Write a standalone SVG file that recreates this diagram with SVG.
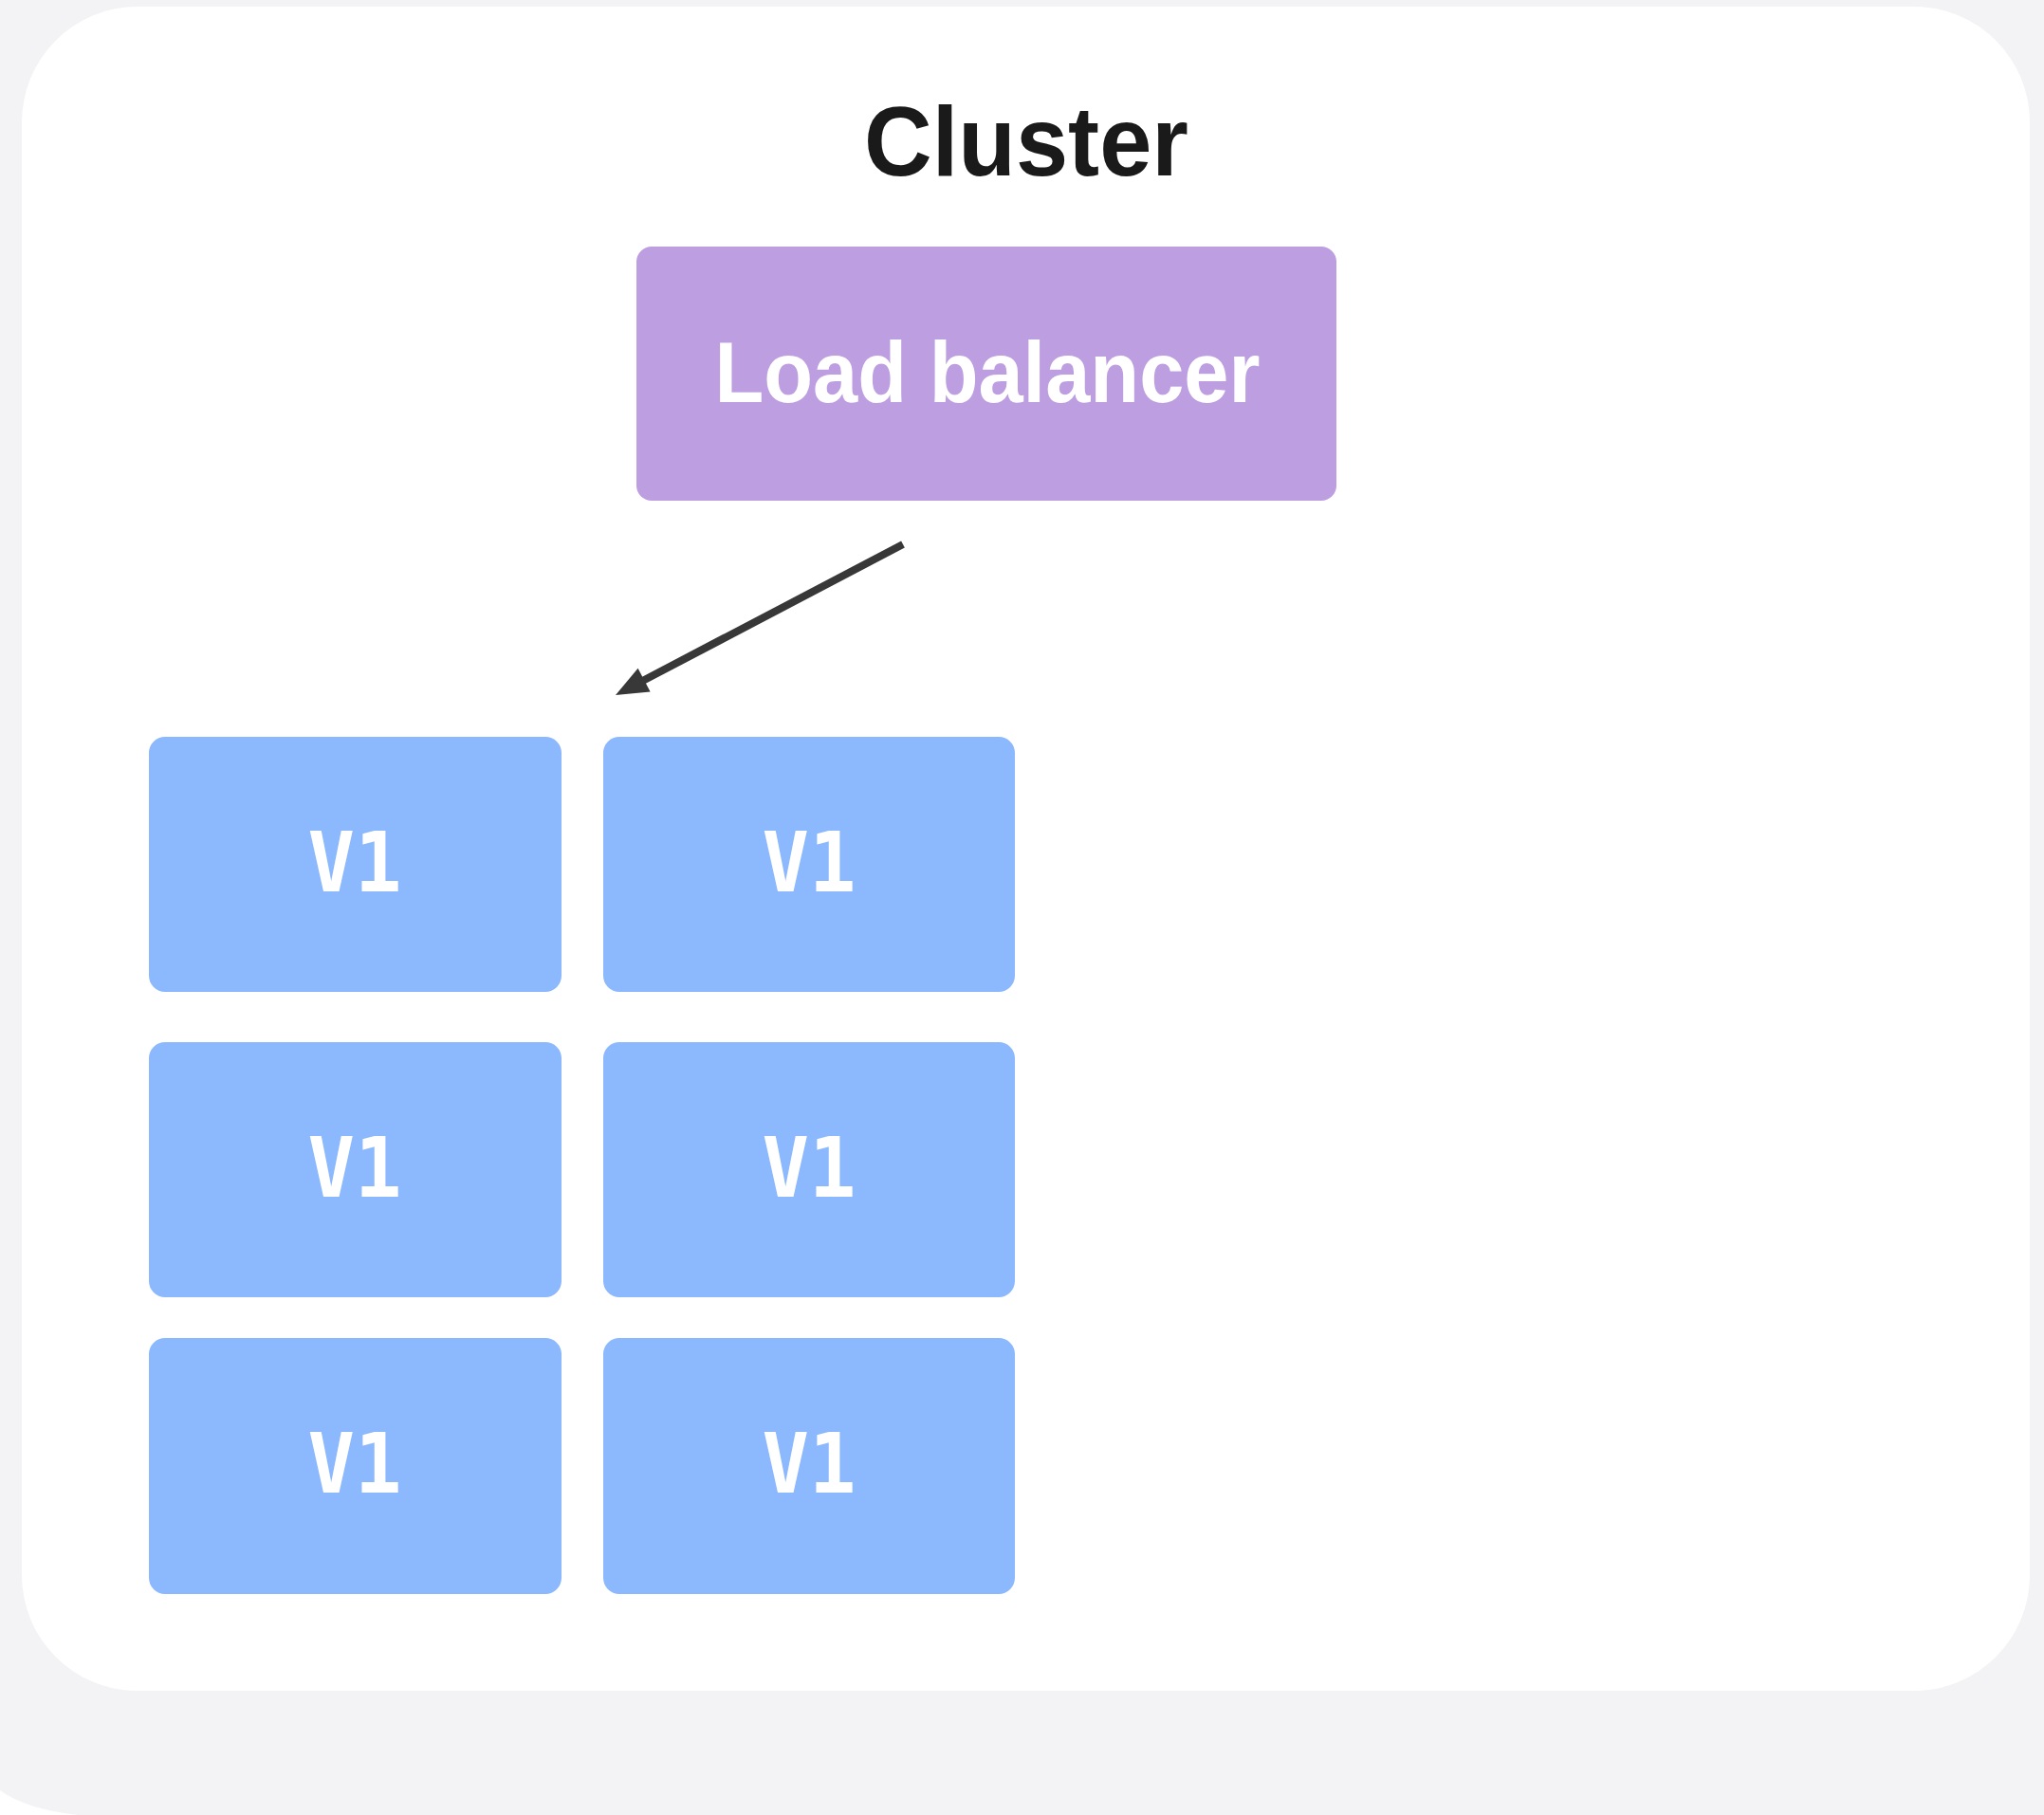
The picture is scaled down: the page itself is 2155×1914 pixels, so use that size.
<svg xmlns="http://www.w3.org/2000/svg" width="2155" height="1914" viewBox="0 0 2155 1914">
  <style>
    .title { font-family: "Liberation Sans", Arial, sans-serif; font-weight: 700; font-size: 104px; fill: #1a1a1a; }
    .lb-box { fill: #bd9ee0; }
    .lb-text { font-family: "Liberation Sans", Arial, sans-serif; font-weight: 700; font-size: 90px; fill: #ffffff; }
    .svc-box { fill: #8cb8fd; }
    .svc-text { font-family: "DejaVu Sans Mono", "Liberation Mono", monospace; font-weight: 700; font-size: 88px; fill: #ffffff; }
    .edge { stroke: #383838; stroke-width: 8; fill: none; }
    .edge-head { fill: #383838; }
  </style>

  <!-- page background -->
  <rect x="0" y="0" width="2155" height="1914" fill="#f3f3f5"/>
  <path d="M0,1888 Q28,1908 82,1914 L0,1914 Z" fill="#ffffff"/>

  <!-- cluster container -->
  <g id="cluster">
    <rect x="23" y="7" width="2117" height="1776" rx="122" ry="122" fill="#ffffff"/>
    <text class="title" x="1082" y="185" text-anchor="middle" textLength="342" lengthAdjust="spacingAndGlyphs">Cluster</text>
  </g>

  <!-- load balancer -->
  <g id="load-balancer">
    <rect class="lb-box" x="671" y="260" width="738" height="268" rx="16" ry="16"/>
    <text class="lb-text" x="1041" y="424" text-anchor="middle" textLength="575" lengthAdjust="spacingAndGlyphs">Load balancer</text>
  </g>

  <!-- service instances -->
  <g id="v1-r1c1">
    <rect class="svc-box" x="157" y="777" width="435" height="269" rx="17" ry="17"/>
    <text class="svc-text" x="374" y="940" text-anchor="middle" textLength="99" lengthAdjust="spacingAndGlyphs">V1</text>
  </g>
  <g id="v1-r1c2">
    <rect class="svc-box" x="636" y="777" width="434" height="269" rx="17" ry="17"/>
    <text class="svc-text" x="853" y="940" text-anchor="middle" textLength="99" lengthAdjust="spacingAndGlyphs">V1</text>
  </g>
  <g id="v1-r2c1">
    <rect class="svc-box" x="157" y="1099" width="435" height="269" rx="17" ry="17"/>
    <text class="svc-text" x="374" y="1262" text-anchor="middle" textLength="99" lengthAdjust="spacingAndGlyphs">V1</text>
  </g>
  <g id="v1-r2c2">
    <rect class="svc-box" x="636" y="1099" width="434" height="269" rx="17" ry="17"/>
    <text class="svc-text" x="853" y="1262" text-anchor="middle" textLength="99" lengthAdjust="spacingAndGlyphs">V1</text>
  </g>
  <g id="v1-r3c1">
    <rect class="svc-box" x="157" y="1411" width="435" height="270" rx="17" ry="17"/>
    <text class="svc-text" x="374" y="1574" text-anchor="middle" textLength="99" lengthAdjust="spacingAndGlyphs">V1</text>
  </g>
  <g id="v1-r3c2">
    <rect class="svc-box" x="636" y="1411" width="434" height="270" rx="17" ry="17"/>
    <text class="svc-text" x="853" y="1574" text-anchor="middle" textLength="99" lengthAdjust="spacingAndGlyphs">V1</text>
  </g>

  <!-- connectors: load balancer to the instance grid -->
  <g id="connectors">
    <line class="edge" x1="952" y1="574" x2="668" y2="723"/>
    <polygon class="edge-head" points="649,733 672.6,704.8 685.6,729.6"/>
  </g>
</svg>
